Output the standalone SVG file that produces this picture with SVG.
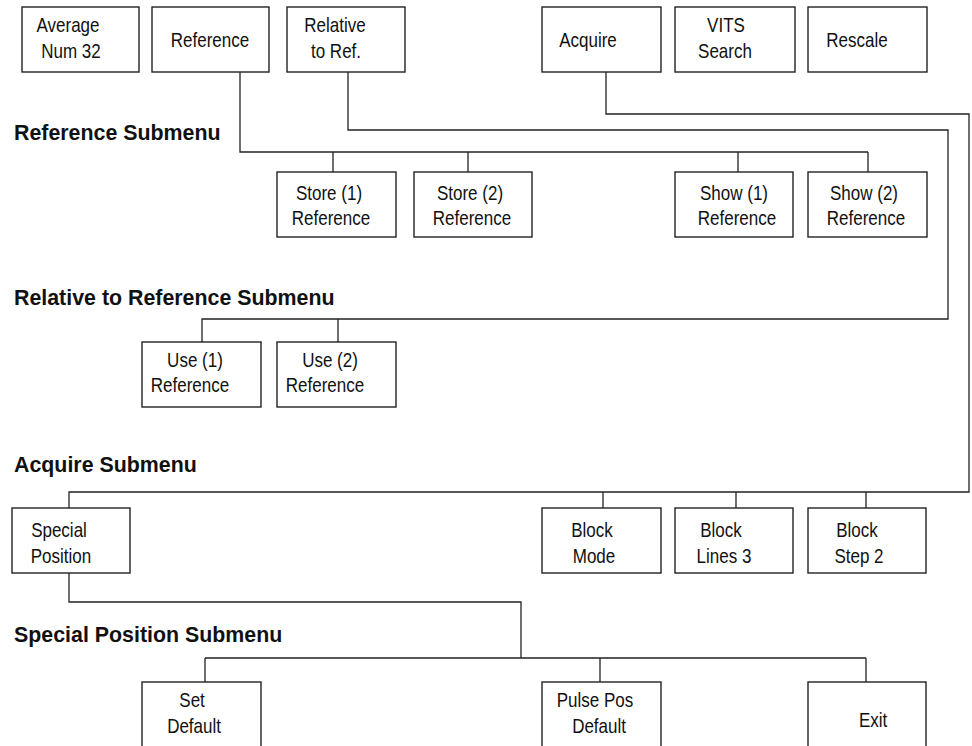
<svg xmlns="http://www.w3.org/2000/svg" width="972" height="746" viewBox="0 0 972 746">
<style>
.b{fill:#fff;stroke:#222;stroke-width:1.4}
.c{fill:none;stroke:#222;stroke-width:1.3}
.t{font-family:"Liberation Sans",Arial,sans-serif;font-size:21px;fill:#111;text-anchor:middle;transform-box:fill-box;transform-origin:center;transform:scaleX(0.81)}
.h{font-family:"Liberation Sans",Arial,sans-serif;font-size:22.5px;font-weight:bold;fill:#111;transform-box:fill-box;transform-origin:0 50%;transform:scaleX(0.95)}
</style>
<rect width="972" height="746" fill="#fff"/>
<g id="connectors">
<path class="c" d="M240 72V152H868M333 152V172M468 152V172M738 152V172M868 152V172"/>
<path class="c" d="M348 72V130H948V319H202V342M338 319V342"/>
<path class="c" d="M606 72V114H969V492H69V508M603 492V508M736 492V508M866 492V508"/>
<path class="c" d="M69 573V602H521V658M205 658H866M205 658V682M600 658V682M866 658V682"/>
</g>
<g id="headings">
<text class="h" x="14" y="140.5">Reference Submenu</text>
<text class="h" x="14" y="305.5">Relative to Reference Submenu</text>
<text class="h" x="14" y="472.5">Acquire Submenu</text>
<text class="h" x="14" y="642.5">Special Position Submenu</text>
</g>
<g id="n-average"><rect class="b" x="22" y="7" width="117" height="65"/><text class="t" x="68" y="32">Average</text><text class="t" x="71" y="58">Num 32</text></g>
<g id="n-reference"><rect class="b" x="152" y="7" width="117" height="65"/><text class="t" x="210" y="47">Reference</text></g>
<g id="n-relative"><rect class="b" x="287" y="7" width="118" height="65"/><text class="t" x="335" y="32">Relative</text><text class="t" x="336" y="58">to Ref.</text></g>
<g id="n-acquire"><rect class="b" x="542" y="7" width="119" height="65"/><text class="t" x="588" y="47">Acquire</text></g>
<g id="n-vits"><rect class="b" x="675" y="7" width="120" height="65"/><text class="t" x="726" y="32">VITS</text><text class="t" x="725" y="58">Search</text></g>
<g id="n-rescale"><rect class="b" x="808" y="7" width="119" height="65"/><text class="t" x="857" y="47">Rescale</text></g>
<g id="n-store1"><rect class="b" x="277" y="172" width="119" height="65"/><text class="t" x="329" y="200">Store (1)</text><text class="t" x="331" y="225">Reference</text></g>
<g id="n-store2"><rect class="b" x="414" y="172" width="118" height="65"/><text class="t" x="470" y="200">Store (2)</text><text class="t" x="472" y="225">Reference</text></g>
<g id="n-show1"><rect class="b" x="675" y="172" width="118" height="65"/><text class="t" x="734" y="200">Show (1)</text><text class="t" x="737" y="225">Reference</text></g>
<g id="n-show2"><rect class="b" x="808" y="172" width="119" height="65"/><text class="t" x="864" y="200">Show (2)</text><text class="t" x="866" y="225">Reference</text></g>
<g id="n-use1"><rect class="b" x="142" y="342" width="119" height="65"/><text class="t" x="195" y="367">Use (1)</text><text class="t" x="190" y="392">Reference</text></g>
<g id="n-use2"><rect class="b" x="277" y="342" width="119" height="65"/><text class="t" x="330" y="367">Use (2)</text><text class="t" x="325" y="392">Reference</text></g>
<g id="n-special"><rect class="b" x="12" y="508" width="118" height="65"/><text class="t" x="59" y="537">Special</text><text class="t" x="61" y="563">Position</text></g>
<g id="n-blockmode"><rect class="b" x="542" y="508" width="119" height="65"/><text class="t" x="592" y="537">Block</text><text class="t" x="594" y="563">Mode</text></g>
<g id="n-blocklines"><rect class="b" x="675" y="508" width="118" height="65"/><text class="t" x="721" y="537">Block</text><text class="t" x="724" y="563">Lines 3</text></g>
<g id="n-blockstep"><rect class="b" x="808" y="508" width="118" height="65"/><text class="t" x="857" y="537">Block</text><text class="t" x="859" y="563">Step 2</text></g>
<g id="n-set"><rect class="b" x="142" y="682" width="119" height="70"/><text class="t" x="192" y="707">Set</text><text class="t" x="194" y="733">Default</text></g>
<g id="n-pulse"><rect class="b" x="542" y="682" width="119" height="70"/><text class="t" x="595" y="707">Pulse Pos</text><text class="t" x="599" y="733">Default</text></g>
<g id="n-exit"><rect class="b" x="808" y="682" width="118" height="70"/><text class="t" x="873" y="727">Exit</text></g>
</svg>
